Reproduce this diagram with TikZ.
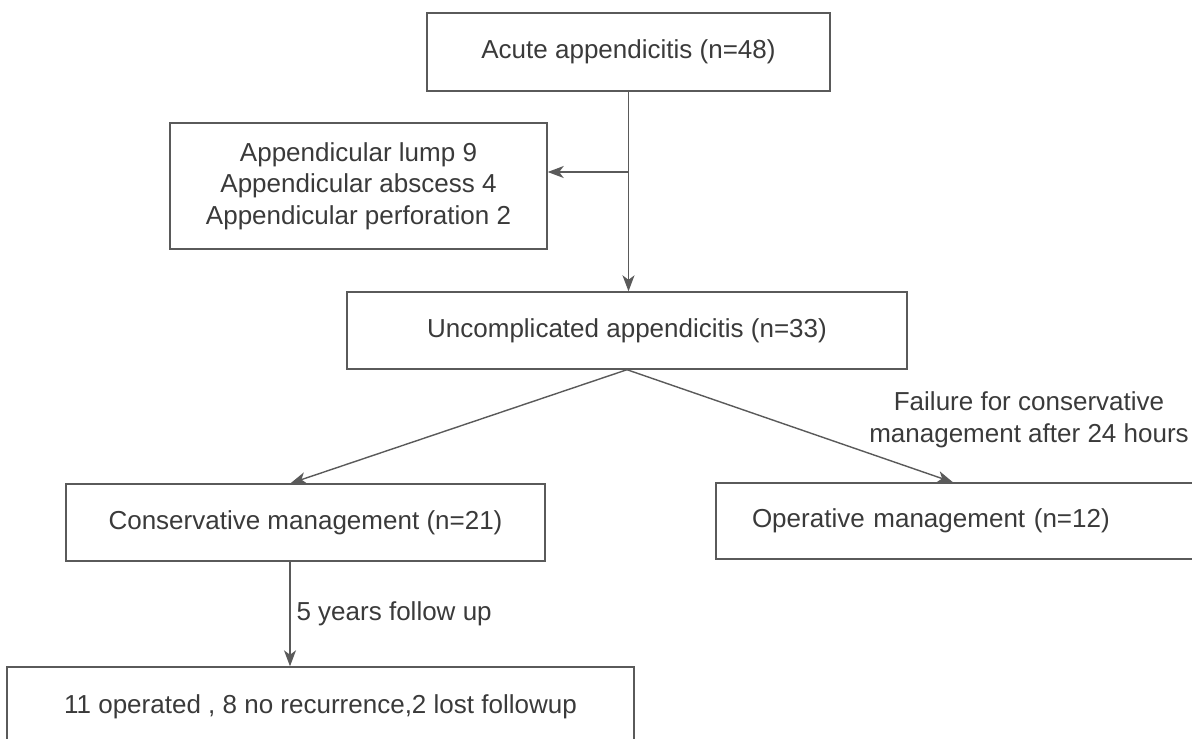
\documentclass[tikz,border=0pt]{standalone}
\usepackage{fontspec}
\setmainfont{Liberation Sans}
\usetikzlibrary{arrows.meta}

\definecolor{linegray}{HTML}{5A5A5A}
\definecolor{textgray}{HTML}{3A3A3A}

\begin{document}
\begin{tikzpicture}[x=0.2mm,y=-0.2mm,->,>={Stealth[length=3.2mm,width=2.4mm,inset=0.9mm]},line width=0.8pt,color=linegray,
        box/.style={shape=rectangle,draw=linegray,text=textgray,align=center,inner sep=0pt,font=\fontsize{14.8}{18}\selectfont},
        lbl/.style={text=textgray,align=center,font=\fontsize{14.8}{18}\selectfont}]
                \useasboundingbox (0, 0) rectangle (1192, 738);
                \node[box,minimum width=80.6mm,minimum height=15.6mm](acute)at(628.5, 52){Acute appendicitis (n=48)};
                \node[box,minimum width=75.4mm,minimum height=25.2mm](lump)at(358.5, 186){Appendicular lump 9\\Appendicular abscess 4\\Appendicular perforation 2};
                \node[box,minimum width=112mm,minimum height=15.4mm](uncomp)at(627, 330.5){Uncomplicated appendicitis (n=33)};
                \node[box,minimum width=95.8mm,minimum height=15.4mm](cons)at(305.5, 522.5){Conservative management (n=21)};
                % right edge runs off the page
                \node[box,minimum height=15.2mm,text width=82.4mm,inner xsep=7.2mm,align=left](oper)at(958, 521){Operative management (n=12)};
                % bottom edge runs off the page
                \node[box,minimum width=125.4mm,minimum height=16mm](follow)at(320.5, 707){11 operated , 8 no recurrence,2 lost followup};
                \node[lbl](fail)at(1029, 420){Failure for conservative\\management after 24 hours};
                \coordinate(split)at(628.5, 172);
                \path[](acute) edge (acute.south |- uncomp.north)
                (split) edge (split -| lump.east)
                (uncomp.south) edge ([xshift=-3mm]cons.north)
                (uncomp.south) edge ([xshift=-1mm]oper.north)
                ([xshift=-3.1mm]cons.south) edge node[lbl,right]{5 years follow up} ([xshift=-3.1mm]cons.south |- follow.north);
            \end{tikzpicture}
\end{document}
